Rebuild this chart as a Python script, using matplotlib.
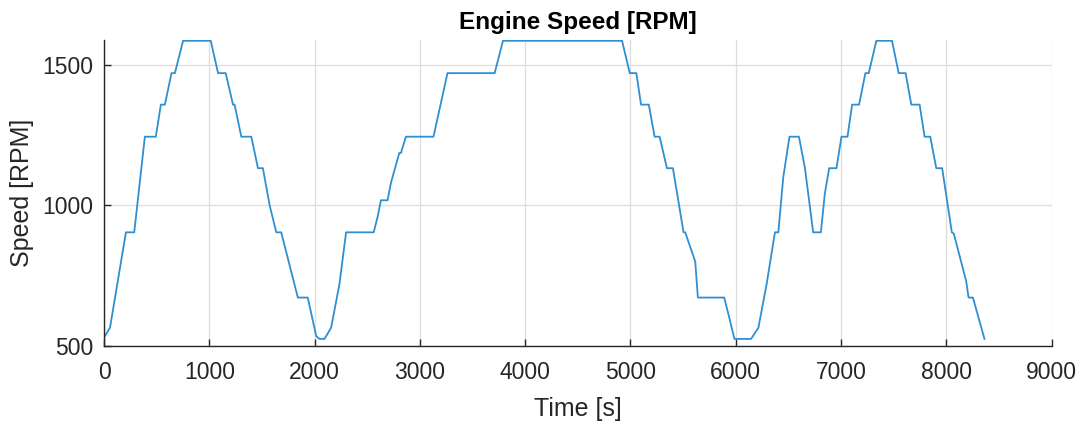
import matplotlib
matplotlib.use("Agg")
import matplotlib.pyplot as plt

# engine speed trace (time [s], speed [rpm])
time_s = [0, 57, 208, 287, 388, 492, 540, 578, 641, 673, 751, 1014, 1083, 1156,
          1225, 1240, 1304, 1399, 1462, 1509, 1573, 1636, 1683, 1841, 1935, 2015,
          2046, 2094, 2157, 2236, 2299, 2561, 2599, 2630, 2693, 2725, 2804, 2820,
          2867, 3129, 3262, 3710, 3789, 4920, 4993, 5056, 5100, 5174, 5229, 5277,
          5346, 5403, 5504, 5520, 5615, 5640, 5890, 5930, 5987, 6145, 6215, 6293,
          6372, 6404, 6451, 6510, 6600, 6657, 6735, 6808, 6846, 6887, 6956, 7004,
          7061, 7105, 7171, 7231, 7263, 7335, 7484, 7547, 7613, 7667, 7746, 7793,
          7847, 7904, 7960, 8052, 8070, 8188, 8211, 8252, 8362]
speed_rpm = [530, 565, 904, 904, 1244, 1244, 1358, 1358, 1470, 1470, 1585, 1585, 1470, 1470,
             1358, 1358, 1244, 1244, 1132, 1132, 1000, 904, 904, 672, 672, 535,
             525, 525, 565, 720, 904, 904, 960, 1018, 1018, 1080, 1186, 1186,
             1244, 1244, 1470, 1470, 1585, 1585, 1470, 1470, 1358, 1358, 1244, 1244,
             1132, 1132, 904, 904, 800, 672, 672, 613, 525, 525, 565, 720,
             904, 904, 1100, 1244, 1244, 1132, 904, 904, 1042, 1132, 1132, 1244,
             1244, 1358, 1358, 1470, 1470, 1585, 1585, 1470, 1470, 1358, 1358, 1244,
             1244, 1132, 1132, 904, 900, 731, 672, 672, 525]

x_ticks = list(range(0, 10000, 1000))
y_ticks = [500, 1000, 1500]

plt.rcParams['font.family'] = ['Liberation Sans', 'DejaVu Sans']

fig = plt.figure(figsize=(10.88, 4.25), dpi=100)
ax = fig.add_axes([0.0956, 0.186, 0.871, 0.72])

ax.plot(time_s, speed_rpm, color='#2f8fd3', lw=1.3)

ax.set_xlim(0, 9000)
ax.set_ylim(500, 1588)
ax.set_xticks(x_ticks)
ax.set_yticks(y_ticks)
ax.grid(True, color='#dddddd', lw=0.9)
ax.set_axisbelow(True)

for side in ['top', 'right']:
    ax.spines[side].set_visible(False)
for side in ['left', 'bottom']:
    ax.spines[side].set_color('#262626')
    ax.spines[side].set_linewidth(1.0)

ax.tick_params(direction='in', length=5, width=1, colors='#262626', labelsize=16.5)
ax.tick_params(axis='x', pad=11)
ax.tick_params(axis='y', pad=8)
ax.set_xlabel('Time [s]', fontsize=18, color='#262626', labelpad=9)
ax.set_ylabel('Speed [RPM]', fontsize=18, color='#262626', labelpad=6)
ax.set_title('Engine Speed [RPM]', fontsize=17.5, fontweight='bold', pad=8)

fig.savefig('out.png', dpi=100)
